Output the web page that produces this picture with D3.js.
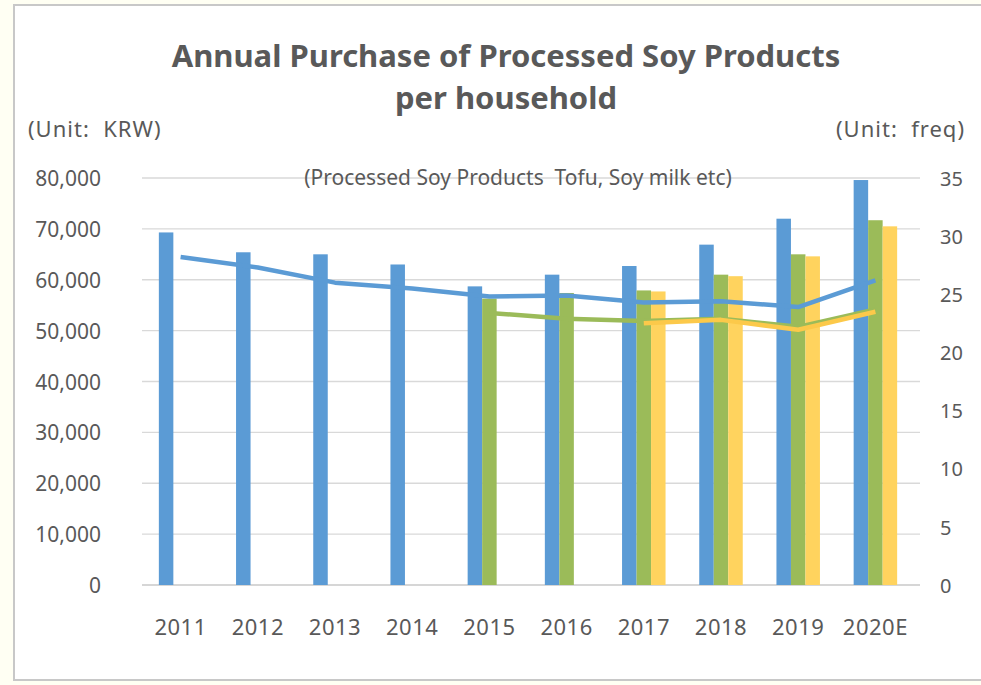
<!DOCTYPE html>
<html>
<head>
<meta charset="utf-8">
<script src="https://cdn.jsdelivr.net/npm/d3@7"></script>
<style>
  body { margin: 0; background: #fff; }
  svg { display: block; }
  text { white-space: pre; }
</style>
</head>
<body>
<script>
const years = ['2011', '2012', '2013', '2014', '2015', '2016', '2017', '2018', '2019', '2020E'];
// bars, KRW (left axis)
const spendA = [69300, 65400, 65000, 63000, 58700, 61000, 62700, 66900, 72000, 79600];
const spendB = [null, null, null, null, 56300, 57400, 57900, 61000, 65000, 71700];
const spendC = [null, null, null, null, null, null, 57700, 60700, 64600, 70500];
// lines, freq (right axis)
const freqA = [28.2, 27.3, 26.0, 25.5, 24.8, 24.9, 24.3, 24.4, 23.9, 26.2];
const freqB = [null, null, null, null, 23.4, 22.9, 22.7, 22.9, 22.2, 23.7];
const freqC = [null, null, null, null, null, null, 22.5, 22.8, 21.95, 23.5];
const leftTicks = [0, 10000, 20000, 30000, 40000, 50000, 60000, 70000, 80000];
const rightTicks = [0, 5, 10, 15, 20, 25, 30, 35];

const colors = ['#5b9bd5', '#9bbb59', '#ffd35e'];
const lineColors = ['#5b9bd5', '#9bbb59', '#fcc94a'];
const textColor = '#595959';
const font = "'Noto Sans', 'DejaVu Sans', sans-serif";

const W = 981, H = 685;
const plot = {left: 142, right: 914, top: 178, bottom: 585};

const svg = d3.select('body').append('svg')
  .attr('width', W)
  .attr('height', H)
  .style('font-family', font);

// page + frame
svg.append('rect').attr('width', W).attr('height', H).attr('fill', '#fffff3');
svg.append('rect')
  .attr('x', 14).attr('y', 5)
  .attr('width', W).attr('height', 675)
  .attr('fill', '#fff')
  .attr('stroke', '#c8c8c8')
  .attr('stroke-width', 2);

const x = d3.scaleBand().domain(years).range([plot.left, plot.right]);
const xs = d3.scaleBand().domain([0, 1, 2]).range([0, 43.5]);
const groupOffset = (x.bandwidth() - 43.5) / 2;
const yL = d3.scaleLinear().domain([0, 80000]).range([plot.bottom, plot.top]);
const yR = d3.scaleLinear().domain([0, 35]).range([plot.bottom, plot.top]);

// gridlines
svg.append('g')
  .selectAll('line')
  .data(leftTicks)
  .enter().append('line')
  .attr('x1', plot.left).attr('x2', 920)
  .attr('y1', d => yL(d)).attr('y2', d => yL(d))
  .attr('stroke', d => d === 0 ? '#c8c8c8' : '#d9d9d9')
  .attr('stroke-width', 1.3);

// left axis
const leftAxis = svg.append('g')
  .attr('transform', 'translate(101,0)')
  .call(d3.axisLeft(yL).tickValues(leftTicks).tickSize(0).tickPadding(0).tickFormat(d3.format(',')));
leftAxis.select('.domain').remove();
leftAxis.selectAll('text')
  .attr('fill', textColor).style('font-size', '21px').style('font-family', font).attr('dy', '0.36em');

// right axis
const rightAxis = svg.append('g')
  .attr('transform', 'translate(940,0)')
  .call(d3.axisRight(yR).tickValues(rightTicks).tickSize(0).tickPadding(0));
rightAxis.select('.domain').remove();
rightAxis.selectAll('text')
  .attr('fill', textColor).style('font-size', '20px').style('font-family', font).attr('dy', '0.36em');

// x axis labels
const xAxis = svg.append('g')
  .attr('transform', 'translate(0,619)')
  .call(d3.axisBottom(x).tickSize(0).tickPadding(0));
xAxis.select('.domain').remove();
xAxis.selectAll('text')
  .attr('fill', textColor).style('font-size', '22px').style('font-family', font)
  .style('letter-spacing', '0.5px').attr('dy', '0.71em');

// bars
[spendA, spendB, spendC].forEach((vals, s) => {
  svg.append('g')
    .selectAll('rect')
    .data(years.map((y, i) => ({year: y, v: vals[i]})).filter(d => d.v != null))
    .enter().append('rect')
    .attr('x', d => x(d.year) + groupOffset + xs(s))
    .attr('width', xs.bandwidth())
    .attr('y', d => yL(d.v))
    .attr('height', d => yL(0) - yL(d.v))
    .attr('fill', colors[s]);
});

// lines
[freqA, freqB, freqC].forEach((vals, s) => {
  const line = d3.line()
    .defined(d => d.v != null)
    .x(d => x(d.year) + x.bandwidth() / 2)
    .y(d => yR(d.v));
  svg.append('path')
    .datum(years.map((y, i) => ({year: y, v: vals[i]})))
    .attr('d', line)
    .attr('fill', 'none')
    .attr('stroke', lineColors[s])
    .attr('stroke-width', 4.5)
    .attr('stroke-linejoin', 'round');
});

// titles
svg.append('text')
  .attr('x', 506).attr('y', 67)
  .attr('text-anchor', 'middle')
  .attr('fill', textColor)
  .style('font-size', '31px').style('font-weight', 'bold')
  .text('Annual Purchase of Processed Soy Products');
svg.append('text')
  .attr('x', 506).attr('y', 109)
  .attr('text-anchor', 'middle')
  .attr('fill', textColor)
  .style('font-size', '31px').style('font-weight', 'bold')
  .text('per household');

svg.append('text')
  .attr('x', 28).attr('y', 137)
  .attr('fill', textColor)
  .style('font-size', '22px')
  .style('letter-spacing', '1px')
  .text('(Unit:  KRW)');
svg.append('text')
  .attr('x', 965).attr('y', 137)
  .attr('text-anchor', 'end')
  .attr('fill', textColor)
  .style('font-size', '22px')
  .style('letter-spacing', '1px')
  .text('(Unit:  freq)');

svg.append('text')
  .attr('x', 518).attr('y', 185)
  .attr('text-anchor', 'middle')
  .attr('fill', textColor)
  .style('font-size', '21px')
  .text('(Processed Soy Products  Tofu, Soy milk etc)');
</script>
</body>
</html>
